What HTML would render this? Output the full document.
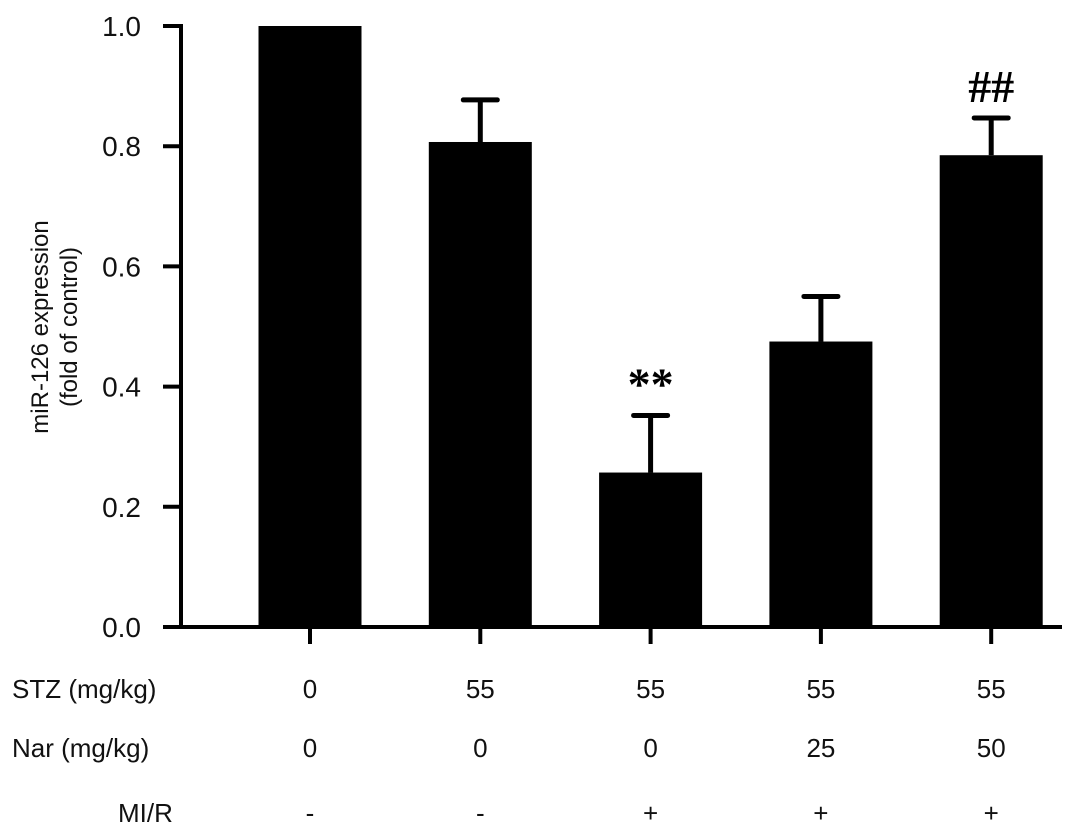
<!DOCTYPE html>
<html><head><meta charset="utf-8"><style>
html,body{margin:0;padding:0;background:#fff;}
svg{display:block;font-family:"Liberation Sans",Arial,sans-serif;}
</style></head><body>
<svg id="chart" width="1087" height="835" viewBox="0 0 1087 835" xmlns="http://www.w3.org/2000/svg"></svg>
<script>
const categories = ["Control","STZ","STZ+MI/R","STZ+Nar25+MI/R","STZ+Nar50+MI/R"];
const values = [1.0, 0.807, 0.257, 0.475, 0.785];
const errors = [0, 0.07, 0.095, 0.075, 0.062];
const marks = ["", "", "**", "", "##"];
const yTicks = [0, 0.2, 0.4, 0.6, 0.8, 1.0];
const yTickLabels = ["0.0","0.2","0.4","0.6","0.8","1.0"];
const stzRow = ["0","55","55","55","55"];
const narRow = ["0","0","0","25","50"];
const mirRow = ["-","-","+","+","+"];

const NS="http://www.w3.org/2000/svg";
const svg=document.getElementById('chart');
const y0=627, pxPerUnit=601;
function yScale(v){return y0 - v*pxPerUnit;}
function xScale(i){return 310 + i*170.3;}
const barW=103;
function mk(tag, attrs, name){
  const e=document.createElementNS(NS,tag);
  for(const k in attrs) e.setAttribute(k, attrs[k]);
  
  
  svg.appendChild(e); return e;
}
mk('line',{x1:181,y1:yScale(1.0)-2,x2:181,y2:y0+2,stroke:'#000','stroke-width':4},'y-axis');
yTicks.forEach((t,i)=>{
  mk('line',{x1:163,y1:yScale(t),x2:181,y2:yScale(t),stroke:'#000','stroke-width':4},'y-tick');
  const tx=mk('text',{x:141,y:yScale(t)+10,'text-anchor':'end','font-size':28,fill:'#111'},'y-tick-label');
  tx.textContent=yTickLabels[i];
});
mk('line',{x1:163,y1:y0,x2:1062,y2:y0,stroke:'#000','stroke-width':4},'x-axis');
const yt=mk('text',{transform:'translate(48,327) rotate(-90)','text-anchor':'middle','font-size':24,fill:'#111'},'y-axis-title');
yt.innerHTML='<tspan x="0" dy="0">miR-126 expression</tspan><tspan x="0" dy="29">(fold of control)</tspan>';
values.forEach((v,i)=>{
  const cx=xScale(i);
  if(errors[i]>0){
    mk('line',{x1:cx,y1:yScale(v),x2:cx,y2:yScale(v+errors[i]),stroke:'#000','stroke-width':5},'error-bar');
    mk('line',{x1:cx-17,y1:yScale(v+errors[i]),x2:cx+17,y2:yScale(v+errors[i]),stroke:'#000','stroke-width':5,'stroke-linecap':'round'},'error-cap');
  }
  mk('rect',{x:cx-barW/2,y:yScale(v),width:barW,height:y0-yScale(v),fill:'#000'},'bar-'+(i+1));
  mk('line',{x1:cx,y1:y0,x2:cx,y2:y0+17,stroke:'#000','stroke-width':4},'x-tick');
  if(marks[i]){
    const m=mk('text',{x:cx,y:yScale(v+errors[i])-16,'text-anchor':'middle','font-size':46,'font-weight':'bold','font-family':'"Liberation Serif",serif',fill:'#000'},'significance-mark');
    m.textContent=marks[i];
  }
});
const rows=[["STZ (mg/kg)",stzRow,698,'stz-row'],["Nar (mg/kg)",narRow,757,'nar-row'],["MI/R",mirRow,822,'mir-row']];
rows.forEach(r=>{
  const lab=mk('text',{x:r[0]==="MI/R"?118:12,y:r[2],'font-size':26,fill:'#111'},r[3]+'-label');
  lab.textContent=r[0];
  r[1].forEach((s,i)=>{
    const t=mk('text',{x:xScale(i),y:r[2],'text-anchor':'middle','font-size':26,fill:'#111'},r[3]+'-value');
    t.textContent=s;
  });
});
</script>
</body></html>
